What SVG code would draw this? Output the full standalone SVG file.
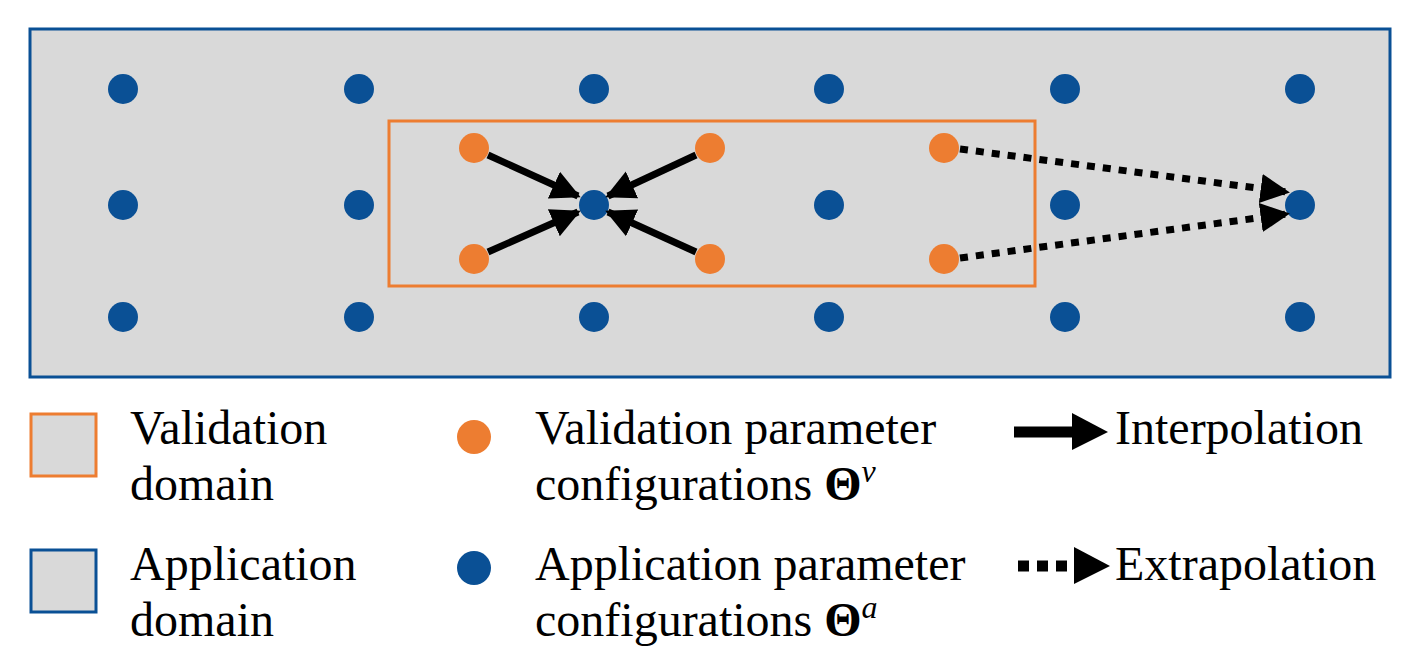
<svg xmlns="http://www.w3.org/2000/svg" width="1418" height="664" viewBox="0 0 1418 664">
<style>
.b{fill:#0a5095}.o{fill:#ed7d31}
.t{font-family:"Liberation Serif",serif;font-size:48px;fill:#000}
.a{stroke:#000;stroke-width:7;fill:none}
.d{stroke:#000;stroke-width:7;stroke-dasharray:8,8;fill:none}
</style>
<defs>
<marker id="h" viewBox="0 0 10 10" refX="9" refY="5" markerWidth="4.2" markerHeight="4.6" markerUnits="strokeWidth" orient="auto"><path d="M0,0L10,5L0,10z" fill="#000"/></marker>
</defs>
<rect width="1418" height="664" fill="#fff"/>
<g id="application-domain"><rect x="30" y="29" width="1360" height="348" fill="#d9d9d9" stroke="#0a5095" stroke-width="3"/></g>
<g id="validation-domain"><rect x="389" y="121" width="646" height="165" fill="none" stroke="#ed7d31" stroke-width="3"/></g>
<g id="app-points" class="b">
<circle cx="123" cy="89" r="15"/><circle cx="359" cy="89" r="15"/><circle cx="594" cy="89" r="15"/><circle cx="829" cy="89" r="15"/><circle cx="1065" cy="89" r="15"/><circle cx="1300" cy="89" r="15"/>
<circle cx="123" cy="205" r="15"/><circle cx="359" cy="205" r="15"/><circle cx="594" cy="205" r="15"/><circle cx="829" cy="205" r="15"/><circle cx="1065" cy="205" r="15"/><circle cx="1300" cy="205" r="15"/>
<circle cx="123" cy="317" r="15"/><circle cx="359" cy="317" r="15"/><circle cx="594" cy="317" r="15"/><circle cx="829" cy="317" r="15"/><circle cx="1065" cy="317" r="15"/><circle cx="1300" cy="317" r="15"/>
</g>
<g id="val-points" class="o">
<circle cx="474" cy="148" r="15"/><circle cx="710" cy="148" r="15"/><circle cx="944" cy="148" r="15"/>
<circle cx="474" cy="259" r="15"/><circle cx="710" cy="259" r="15"/><circle cx="944" cy="259" r="15"/>
</g>
<g id="connectors">
<line class="a" x1="488" y1="155" x2="578" y2="196" marker-end="url(#h)"/>
<line class="a" x1="696" y1="155" x2="608" y2="196" marker-end="url(#h)"/>
<line class="a" x1="488" y1="252" x2="578" y2="212" marker-end="url(#h)"/>
<line class="a" x1="696" y1="252" x2="608" y2="212" marker-end="url(#h)"/>
<line class="d" x1="960" y1="149" x2="1287" y2="192" marker-end="url(#h)"/>
<line class="d" x1="960" y1="258" x2="1287" y2="214" marker-end="url(#h)"/>
</g>
<g id="legend">
<rect x="31" y="414" width="65" height="62" fill="#d9d9d9" stroke="#ed7d31" stroke-width="3"/>
<text class="t" x="130" y="444">Validation</text><text class="t" x="130" y="500">domain</text>
<rect x="31" y="550" width="65" height="62" fill="#d9d9d9" stroke="#0a5095" stroke-width="3"/>
<text class="t" x="130" y="580">Application</text><text class="t" x="130" y="636">domain</text>
<circle class="o" cx="474" cy="437" r="17"/>
<text class="t" x="535" y="444">Validation parameter</text>
<text class="t" x="535" y="500">configurations <tspan font-weight="bold">Θ</tspan><tspan font-style="italic" font-size="32" dy="-18">v</tspan></text>
<circle class="b" cx="474" cy="568" r="17"/>
<text class="t" x="535" y="580">Application parameter</text>
<text class="t" x="535" y="636">configurations <tspan font-weight="bold">Θ</tspan><tspan font-style="italic" font-size="32" dy="-18">a</tspan></text>
<line x1="1014" y1="432" x2="1082" y2="432" stroke="#000" stroke-width="11"/>
<path d="M1072,413L1108,432L1072,450z"/>
<text class="t" x="1115" y="444">Interpolation</text>
<line x1="1018" y1="566" x2="1082" y2="566" stroke="#000" stroke-width="11" stroke-dasharray="11,8"/>
<path d="M1074,547L1110,566L1074,584z"/>
<text class="t" x="1115" y="580">Extrapolation</text>
</g>
</svg>
